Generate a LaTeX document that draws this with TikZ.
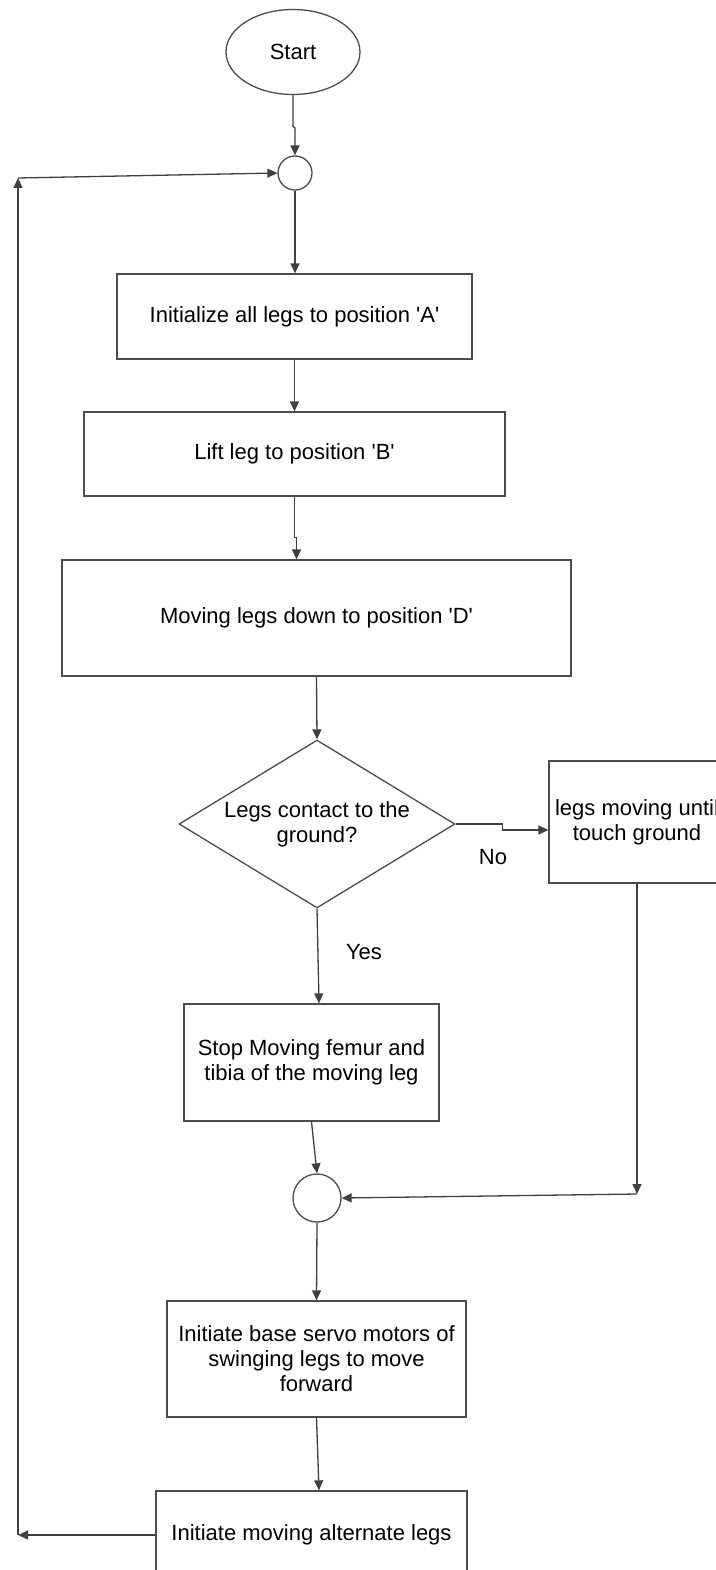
\documentclass[tikz,border=0pt]{standalone}
\usepackage{fontspec}
\setmainfont{Liberation Sans}
\usetikzlibrary{shapes.geometric,arrows.meta,calc}
\begin{document}
\begin{tikzpicture}[x=1pt,y=-1pt,
  every node/.style={font=\fontsize{22pt}{25pt}\selectfont, text=black},
  box/.style={draw=black!70, line width=1.3pt, rectangle, inner sep=0pt, align=center},
  term/.style={draw=black!70, line width=1.3pt, ellipse, inner sep=0pt, minimum width=134pt, minimum height=85pt},
  jn/.style={draw=black!70, line width=1.3pt, circle, inner sep=0pt},
  dec/.style={draw=black!70, line width=1.3pt, diamond, inner sep=0pt, shape aspect=1.64, align=center, minimum width=276pt, minimum height=168pt},
  arr/.style={draw=black!75, line width=1.3pt, -{Triangle[length=10pt,width=9pt]}},
  lbl/.style={inner sep=0pt}
]
\useasboundingbox (0,0) rectangle (715,1570);
\fill[white] (0,0) rectangle (715,1570);

% nodes
\node[term] (start) at (293,52) {Start};
\node[jn, minimum size=34pt] (c1) at (295,173) {};
\node[box, minimum width=355pt, minimum height=85pt] (b1) at (294.5,316.5) {Initialize all legs to position \textquotesingle A\textquotesingle};
\node[box, minimum width=421pt, minimum height=84pt] (b2) at (294.5,454) {Lift leg to position \textquotesingle B\textquotesingle};
\node[box, minimum width=509pt, minimum height=116pt] (b3) at (316.5,618) {Moving legs down to position \textquotesingle D\textquotesingle};
\node[dec] (dia) at (317,824) {Legs contact to the\\ground?};
\node[box, minimum width=176pt, minimum height=122pt] (rb) at (637,822) {legs moving until\\touch ground};
\node[box, minimum width=255pt, minimum height=117pt] (stop) at (311.5,1062.5) {Stop Moving femur and\\tibia of the moving leg};
\node[jn, minimum size=48pt] (c2) at (317,1198) {};
\node[box, minimum width=299pt, minimum height=116pt] (b5) at (316.5,1359) {Initiate base servo motors of\\swinging legs to move\\forward};
\node[box, minimum width=311pt, minimum height=88pt] (b6) at (311.5,1535) {Initiate moving alternate legs};

\node[lbl] (no) at (493,857) {No};
\node[lbl] (yes) at (364,952) {Yes};

\coordinate (rbc) at (637,1194);
\coordinate (lc1) at (18,1535);
\coordinate (lc2) at (18,178);

% connectors
\draw[arr] (start.south) -- ++(0,31) -- ++(2,2) -- (c1.north);
\draw[arr] (c1.south) -- (c1.south |- b1.north);
\draw[arr] (b1.south) -- (b1.south |- b2.north);
\draw[arr] (b2.south) -- ++(0,41) -- ++(2,0) -- ([xshift=2pt]b2.south |- b3.north);
\draw[arr] (b3.south) -- (dia.north);
\draw[arr] (dia.east) -- ++(47,0) -- ++(0,6) -- ([yshift=-8pt]rb.west);
\draw[arr] (dia.south) -- ([xshift=7.5pt]stop.north);
\draw[arr] (stop.south) -- (c2.north);
\draw[arr] (rb.south) -- (rbc);
\draw[arr] (rbc) -- (c2.east);
\draw[arr] (c2.south) -- (b5.north);
\draw[arr] (b5.south) -- ([xshift=7.5pt]b6.north);
\draw[arr] (b6.west) -- (lc1);
\draw[arr] (lc1) -- (lc2);
\draw[arr] (lc2) -- (c1.west);
\end{tikzpicture}
\end{document}
